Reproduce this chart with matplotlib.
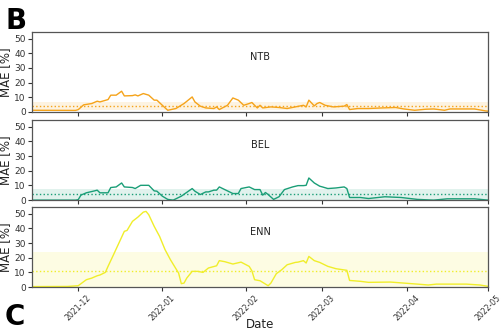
import matplotlib
matplotlib.use('Agg')
import matplotlib.pyplot as plt
import matplotlib.dates as mdates
import numpy as np
import pandas as pd

# MAE per region (rolling), date strings and values
ntb_dates = ['2021-11-14', '2021-11-30', '2021-12-01', '2021-12-03', '2021-12-06', '2021-12-08',
             '2021-12-09', '2021-12-12', '2021-12-13', '2021-12-15', '2021-12-17', '2021-12-18',
             '2021-12-21', '2021-12-22', '2021-12-23', '2021-12-25', '2021-12-27', '2021-12-29',
             '2021-12-30', '2022-01-01', '2022-01-03', '2022-01-06', '2022-01-09', '2022-01-12',
             '2022-01-13', '2022-01-15', '2022-01-17', '2022-01-20', '2022-01-21', '2022-01-22',
             '2022-01-25', '2022-01-27', '2022-01-29', '2022-01-31', '2022-02-02', '2022-02-03',
             '2022-02-04', '2022-02-05', '2022-02-06', '2022-02-07', '2022-02-10', '2022-02-13',
             '2022-02-16', '2022-02-19', '2022-02-22', '2022-02-23', '2022-02-24', '2022-02-26',
             '2022-02-27', '2022-02-28', '2022-03-02', '2022-03-05', '2022-03-09', '2022-03-10',
             '2022-03-11', '2022-03-14', '2022-03-18', '2022-03-23', '2022-03-28', '2022-03-31',
             '2022-04-04', '2022-04-08', '2022-04-11', '2022-04-15', '2022-04-17', '2022-04-26',
             '2022-04-30', '2022-05-01']
ntb_mae = [1.1, 1.0, 1.5, 4.8, 5.7, 7.3,
           6.8, 8.4, 11.4, 11.4, 14.1, 10.9,
           11.1, 11.6, 10.9, 12.5, 11.4, 8.0,
           8.0, 4.5, 1.1, 2.3, 5.7, 10.2,
           6.8, 3.9, 2.7, 2.3, 3.4, 1.6,
           4.5, 9.5, 8.0, 4.5, 5.7, 6.4,
           4.5, 2.7, 4.5, 2.7, 3.4, 3.0,
           2.3, 3.4, 4.5, 3.4, 8.0, 4.1,
           5.7, 6.4, 4.5, 3.4, 3.9, 5.0,
           1.6, 2.3, 2.3, 2.7, 3.0, 2.0,
           1.1, 1.8, 2.0, 1.1, 2.0, 2.0,
           0.7, 0.5]

bel_dates = ['2021-11-14', '2021-11-30', '2021-12-01', '2021-12-02', '2021-12-04', '2021-12-07',
             '2021-12-08', '2021-12-09', '2021-12-12', '2021-12-13', '2021-12-15', '2021-12-17',
             '2021-12-18', '2021-12-21', '2021-12-22', '2021-12-24', '2021-12-27', '2021-12-29',
             '2021-12-30', '2022-01-01', '2022-01-03', '2022-01-05', '2022-01-08', '2022-01-12',
             '2022-01-13', '2022-01-15', '2022-01-17', '2022-01-18', '2022-01-20', '2022-01-21',
             '2022-01-22', '2022-01-24', '2022-01-27', '2022-01-29', '2022-01-30', '2022-02-02',
             '2022-02-04', '2022-02-06', '2022-02-07', '2022-02-08', '2022-02-09', '2022-02-11',
             '2022-02-13', '2022-02-15', '2022-02-18', '2022-02-20', '2022-02-22', '2022-02-23',
             '2022-02-24', '2022-02-26', '2022-02-28', '2022-03-01', '2022-03-03', '2022-03-06',
             '2022-03-09', '2022-03-10', '2022-03-11', '2022-03-15', '2022-03-18', '2022-03-24',
             '2022-03-30', '2022-04-05', '2022-04-11', '2022-04-16', '2022-04-26', '2022-05-01']
bel_mae = [0.0, 0.0, 0.3, 3.4, 5.0, 6.3,
           6.8, 5.0, 5.0, 8.6, 9.0, 11.7,
           9.0, 8.6, 7.9, 10.1, 10.1, 6.3,
           6.1, 2.7, 0.5, 0.0, 2.7, 7.9,
           6.1, 3.8, 5.6, 5.6, 6.8, 6.8,
           9.0, 7.2, 4.5, 4.5, 7.9, 9.0,
           7.2, 7.2, 3.4, 5.2, 3.8, 0.5,
           2.3, 7.2, 9.0, 9.9, 9.9, 10.1,
           15.1, 11.7, 9.5, 9.0, 7.9, 8.3,
           9.0, 7.9, 1.8, 1.8, 1.1, 2.3,
           1.8, 0.5, 0.0, 0.9, 0.9, 0.0]

enn_dates = ['2021-11-14', '2021-11-27', '2021-12-01', '2021-12-04', '2021-12-06', '2021-12-08',
             '2021-12-09', '2021-12-11', '2021-12-12', '2021-12-14', '2021-12-16', '2021-12-18',
             '2021-12-19', '2021-12-21', '2021-12-23', '2021-12-25', '2021-12-26', '2021-12-27',
             '2021-12-29', '2021-12-31', '2022-01-02', '2022-01-04', '2022-01-07', '2022-01-08',
             '2022-01-09', '2022-01-10', '2022-01-12', '2022-01-14', '2022-01-16', '2022-01-18',
             '2022-01-21', '2022-01-22', '2022-01-24', '2022-01-27', '2022-01-30', '2022-02-02',
             '2022-02-03', '2022-02-04', '2022-02-06', '2022-02-09', '2022-02-10', '2022-02-12',
             '2022-02-14', '2022-02-16', '2022-02-19', '2022-02-20', '2022-02-22', '2022-02-23',
             '2022-02-24', '2022-02-26', '2022-02-28', '2022-03-03', '2022-03-06', '2022-03-10',
             '2022-03-11', '2022-03-15', '2022-03-18', '2022-03-26', '2022-03-31', '2022-04-05',
             '2022-04-09', '2022-04-12', '2022-04-23', '2022-04-28', '2022-05-01']
enn_mae = [0.3, 0.4, 0.9, 5.0, 6.1, 7.7,
           8.2, 10.0, 14.1, 22.0, 30.0, 38.0,
           38.6, 44.8, 47.7, 51.1, 51.6, 49.3,
           41.4, 34.5, 25.5, 18.6, 9.5, 2.3,
           2.7, 6.1, 10.7, 10.7, 10.0, 13.0,
           14.5, 18.0, 17.3, 15.7, 17.0, 14.1,
           11.1, 5.0, 4.3, 0.9, 2.7, 9.1,
           11.8, 15.2, 16.8, 17.0, 18.0, 16.4,
           20.9, 18.0, 16.8, 14.1, 12.5, 11.4,
           4.5, 3.9, 3.2, 3.4, 2.7, 2.0,
           1.4, 2.0, 2.0, 1.4, 0.5]

regions = ['NTB', 'BEL', 'ENN']
colors = ['#f5a31a', '#1a9e77', '#f0ee2a']
mae_mean = [3.9, 4.1, 11.1]
mae_std = [2.9, 3.8, 12.5]

series = [(ntb_dates, ntb_mae), (bel_dates, bel_mae), (enn_dates, enn_mae)]

fig = plt.figure(figsize=(5.01, 3.33), dpi=100)
bottoms = [0.664, 0.399, 0.138]
axes = []
for i, (reg, col, (d, v)) in enumerate(zip(regions, colors, series)):
    ax = fig.add_axes([0.064, bottoms[i], 0.91, 0.24])
    axes.append(ax)
    dates = pd.to_datetime(d)
    ax.axhspan(max(mae_mean[i] - mae_std[i], 0), mae_mean[i] + mae_std[i],
               color=col, alpha=0.13, lw=0)
    ax.axhline(mae_mean[i], color=col, ls=':', lw=1.0)
    ax.plot(dates, v, color=col, lw=1.0)
    ax.text(0.5, 0.69, reg, transform=ax.transAxes, ha='center', va='center',
            fontsize=7, color='#222222')
    ax.set_xlim(pd.Timestamp('2021-11-14'), pd.Timestamp('2022-05-01'))
    ax.set_ylim(0, 54.5)
    ax.set_yticks([0, 10, 20, 30, 40, 50])
    ax.set_ylabel('MAE [%]', fontsize=8.5, labelpad=2, color='#222222')
    ax.xaxis.set_major_locator(mdates.MonthLocator())
    ax.xaxis.set_major_formatter(mdates.DateFormatter('%Y-%m'))
    ax.tick_params(labelsize=6.5, length=3, width=0.8, pad=1.5, colors='#333333')
    ax.tick_params(axis='x', labelsize=5.6)
    for s in ax.spines.values():
        s.set_color('#555555')
        s.set_linewidth(0.9)
    if i < 2:
        ax.tick_params(labelbottom=False)

for lab in axes[2].get_xticklabels():
    lab.set_rotation(45)
    lab.set_ha('center')
axes[2].set_xlabel('Date', fontsize=8.5, labelpad=-3, color='#222222')

fig.text(0.01, 0.912, 'B', fontsize=20, fontweight='bold')
fig.text(0.01, 0.025, 'C', fontsize=20, fontweight='bold')

fig.savefig('out.png', dpi=100)
